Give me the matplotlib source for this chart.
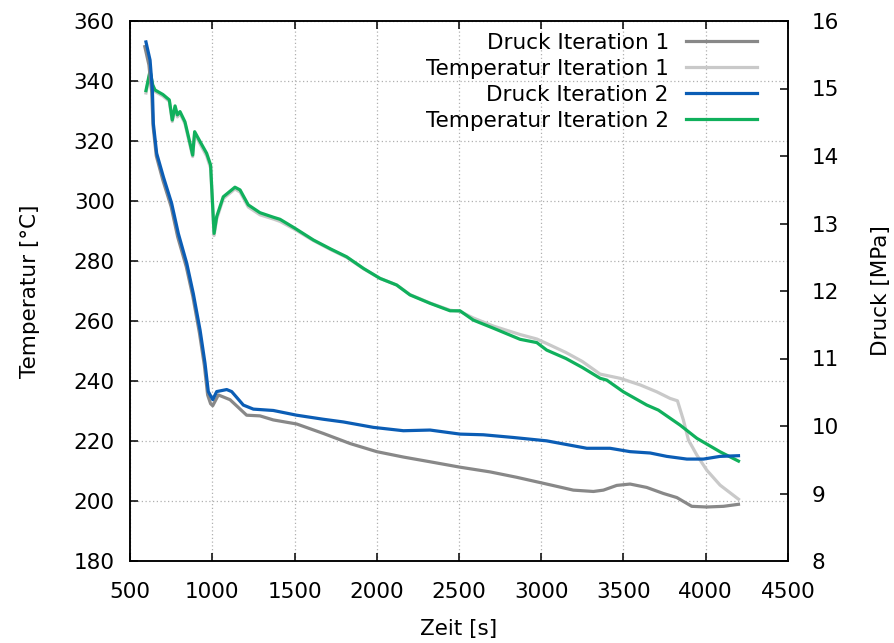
import matplotlib.pyplot as plt

plt.rcParams["font.family"] = ["DejaVu Sans"]
plt.rcParams["font.size"] = 15.5

# Temperatur Iteration 1 (left axis, °C)
t1_x = [597, 622, 638, 652, 700, 739, 757, 774, 788, 804, 834, 865, 881, 893, 926, 966,
        990, 1011, 1027, 1067, 1138, 1169, 1219, 1290, 1371, 1412, 1503, 1615, 1720, 1817,
        1920, 2020, 2121, 2202, 2324, 2446, 2506, 2587, 2709, 2871, 2973, 3033, 3150, 3250,
        3358, 3479, 3601, 3702, 3783, 3828, 3864, 3895, 3946, 4006, 4087, 4199]
t1_y = [336, 343, 338.5, 336.5, 335, 333.2, 326.5, 331, 328, 329.2, 325.8, 318.5, 314.8,
        322.5, 319, 315, 311, 288.5, 294, 300.8, 304, 303, 298, 295.4, 294, 293.2, 290.5,
        286.8, 283.8, 281.2, 277.4, 274.2, 272, 268.8, 266, 263.6, 263.2, 261, 258.3, 255.5,
        254, 252.5, 249.5, 246.5, 242.3, 240.9, 238.7, 236.4, 234.2, 233.4, 227, 220.3,
        215.3, 210.3, 205.3, 200.6]

# Temperatur Iteration 2 (left axis, °C)
t2_x = [597, 622, 638, 652, 700, 739, 757, 774, 788, 804, 834, 865, 881, 893, 926, 966,
        990, 1011, 1027, 1067, 1138, 1169, 1219, 1290, 1371, 1412, 1503, 1615, 1720, 1817,
        1920, 2020, 2121, 2202, 2324, 2446, 2506, 2587, 2709, 2871, 2973, 3033, 3150, 3250,
        3358, 3398, 3499, 3641, 3712, 3844, 3946, 4087, 4199]
t2_y = [336.8, 343.4, 338.7, 337, 335.5, 333.7, 327, 331.7, 328.7, 329.8, 326.4, 319.2,
        315.3, 323.1, 319.8, 315.9, 312, 289.2, 294.8, 301.4, 304.6, 303.7, 298.7, 296.1,
        294.6, 293.9, 290.9, 287, 284, 281.4, 277.5, 274.2, 272, 268.7, 265.9, 263.4, 263.4,
        260.3, 257.6, 253.9, 252.8, 250.3, 247.5, 244.5, 240.9, 240.3, 236.4, 232, 230.3,
        225.3, 220.9, 216.4, 213.3]

# Druck Iteration 1 (right axis, MPa)
p1_x = [590, 615, 632, 640, 660, 700, 750, 790, 842, 882, 922, 952, 972, 990, 1003, 1037,
        1108, 1209, 1290, 1371, 1513, 1675, 1838, 2000, 2162, 2324, 2506, 2689, 2851, 3033,
        3195, 3317, 3378, 3459, 3540, 3641, 3743, 3824, 3915, 4006, 4108, 4199]
p1_y = [15.62, 15.35, 14.95, 14.45, 14.00, 13.64, 13.25, 12.80, 12.36, 11.92, 11.38, 10.90,
        10.46, 10.33, 10.30, 10.46, 10.39, 10.16, 10.15, 10.09, 10.03, 9.89, 9.74, 9.62,
        9.54, 9.47, 9.39, 9.32, 9.24, 9.14, 9.05, 9.03, 9.05, 9.12, 9.14, 9.09, 9.00, 8.94,
        8.81, 8.80, 8.81, 8.84]

# Druck Iteration 2 (right axis, MPa)
p2_x = [597, 622, 636, 642, 662, 703, 753, 794, 845, 885, 926, 956, 976, 1003, 1027, 1088,
        1118, 1189, 1250, 1371, 1513, 1675, 1797, 1979, 2162, 2324, 2506, 2648, 2830, 3033,
        3277, 3418, 3540, 3662, 3763, 3885, 3986, 4087, 4199]
p2_y = [15.69, 15.42, 14.98, 14.48, 14.04, 13.69, 13.30, 12.85, 12.41, 11.96, 11.42, 10.93,
        10.51, 10.39, 10.51, 10.54, 10.51, 10.31, 10.25, 10.23, 10.16, 10.10, 10.06, 9.98,
        9.93, 9.94, 9.88, 9.87, 9.83, 9.78, 9.67, 9.67, 9.62, 9.60, 9.55, 9.51, 9.51, 9.55,
        9.56]

fig = plt.figure(figsize=(8.95, 6.43), dpi=100)
ax = fig.add_axes([130 / 895, 1 - 561 / 643, 658 / 895, 540 / 643])
ax2 = ax.twinx()

lw = 2.3
l1, = ax2.plot(p1_x, p1_y, color="#888888", lw=lw, label="Druck Iteration 1")
l2, = ax.plot(t1_x, t1_y, color="#c9c9c9", lw=lw, label="Temperatur Iteration 1")
l3, = ax2.plot(p2_x, p2_y, color="#0b5db5", lw=lw, label="Druck Iteration 2")
l4, = ax.plot(t2_x, t2_y, color="#10b05c", lw=lw, label="Temperatur Iteration 2")

ax.set_xlim(500, 4500)
ax.set_ylim(180, 360)
ax2.set_ylim(8, 16)
ax.set_xticks(range(500, 4501, 500))
ax.set_yticks(range(180, 361, 20))
ax2.set_yticks(range(8, 17))

ax.grid(True, color="#b0b0b0", linestyle=(0, (1, 2)), linewidth=0.9)
ax.tick_params(direction="in", length=6, width=1.1, top=True, right=False)
ax.tick_params(axis="y", pad=11)
ax.tick_params(axis="x", pad=15)
ax2.tick_params(direction="in", length=6, width=1.1, pad=17)
for a in (ax, ax2):
    for s in a.spines.values():
        s.set_linewidth(1.1)

ax.set_xlabel("Zeit [s]", labelpad=12)
ax.set_ylabel("Temperatur [°C]", labelpad=24)
ax2.set_ylabel("Druck [MPa]", labelpad=23)

ax2.legend(handles=[l1, l2, l3, l4], loc="upper right", bbox_to_anchor=(0.953, 0.978),
           frameon=False, markerfirst=False, handlelength=3.3, handletextpad=0.8,
           labelspacing=0.28, borderaxespad=0, borderpad=0)

fig.savefig("out.png", dpi=100)
